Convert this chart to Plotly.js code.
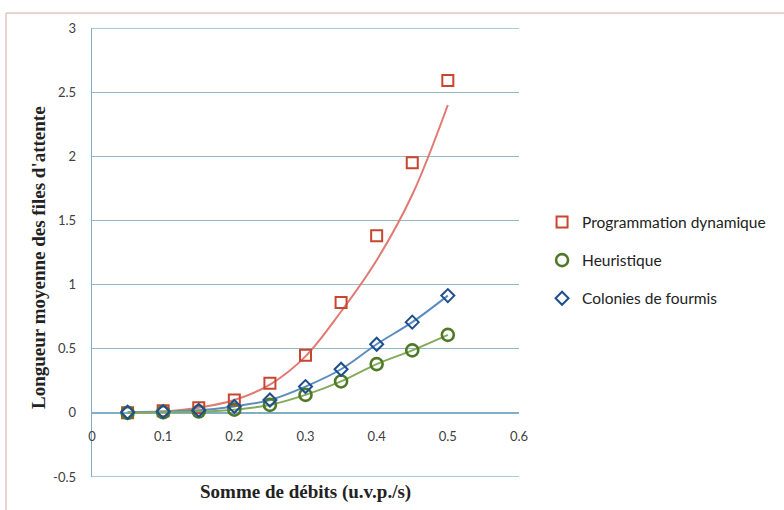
<!DOCTYPE html>
<html>
<head>
<meta charset="utf-8">
<script src="https://cdn.plot.ly/plotly-3.0.1.min.js"></script>
<style>
html,body{margin:0;padding:0;background:#fff;}
#chart{width:784px;height:510px;}
</style>
</head>
<body>
<div id="chart"></div>
<script>
// Data
const debits = [0.05, 0.1, 0.15, 0.2, 0.25, 0.3, 0.35, 0.4, 0.45, 0.5];
const progDyn = [0.0, 0.016, 0.04, 0.10, 0.23, 0.45, 0.86, 1.38, 1.95, 2.59];
const heuristique = [0.0, 0.005, 0.01, 0.025, 0.062, 0.14, 0.245, 0.38, 0.487, 0.608];
const colonies = [0.005, 0.01, 0.02, 0.05, 0.10, 0.205, 0.34, 0.535, 0.707, 0.914];
// trend curve of "Programmation dynamique"
const progDynTrend = [0.0, 0.01, 0.04, 0.10, 0.22, 0.44, 0.79, 1.19, 1.70, 2.40];

const xTicks = [0, 0.1, 0.2, 0.3, 0.4, 0.5, 0.6];
const xTickText = ['0', '0.1', '0.2', '0.3', '0.4', '0.5', '0.6'];
const yTicks = [-0.5, 0, 0.5, 1, 1.5, 2, 2.5, 3];
const yTickText = ['-0.5', '0', '0.5', '1', '1.5', '2', '2.5', '3'];
const yRange = [-0.5, 3];

const names = ['Programmation dynamique', 'Heuristique', 'Colonies de fourmis'];

const traces = [
  {x: debits, y: progDynTrend, mode: 'lines', line: {color: '#e07a72', width: 2, shape: 'spline'}, showlegend: false, hoverinfo: 'skip'},
  {x: debits, y: colonies, mode: 'lines', line: {color: '#5b8cc0', width: 2, shape: 'spline'}, showlegend: false, hoverinfo: 'skip'},
  {x: debits, y: heuristique, mode: 'lines', line: {color: '#84ab5a', width: 2, shape: 'spline'}, showlegend: false, hoverinfo: 'skip'},
  {x: debits, y: progDyn, name: names[0], mode: 'markers', legendgroup: 'a',
   marker: {symbol: 'square-open', size: 11, color: '#c8452f', line: {width: 2, color: '#c8452f'}}},
  {x: debits, y: heuristique, name: names[1], mode: 'markers', legendgroup: 'b',
   marker: {symbol: 'circle-open', size: 12, color: '#4e7a27', line: {width: 2.6, color: '#4e7a27'}}},
  {x: debits, y: colonies, name: names[2], mode: 'markers', legendgroup: 'c',
   marker: {symbol: 'diamond-open', size: 10, color: '#1f4e8c', line: {width: 2, color: '#1f4e8c'}}}
];

const tickFont = {family: 'Lato, "Liberation Sans", sans-serif', size: 13, color: '#404040'};
const gridColor = '#93b8c8';

const layout = {
  width: 784, height: 510,
  margin: {l: 92, r: 265, t: 28, b: 33},
  paper_bgcolor: '#ffffff', plot_bgcolor: '#ffffff',
  showlegend: true,
  xaxis: {
    range: [0, 0.6], tickvals: xTicks, ticktext: xTickText,
    showgrid: false, zeroline: false, showline: false,
    anchor: 'free', position: 0.5 / 3.5,
    ticks: 'outside', ticklen: 12, tickcolor: 'rgba(0,0,0,0)',
    tickfont: tickFont, fixedrange: true
  },
  yaxis: {
    range: yRange, tickvals: yTicks, ticktext: yTickText,
    showgrid: true, gridcolor: gridColor, gridwidth: 1,
    zeroline: true, zerolinecolor: '#7fb0c8', zerolinewidth: 1.3,
    showline: true, linecolor: '#7fb0c8', linewidth: 1.3,
    ticks: 'outside', ticklen: 12, tickcolor: 'rgba(0,0,0,0)',
    tickfont: tickFont, fixedrange: true
  },
  legend: {
    x: 1.054, xanchor: 'left', y: 0.605, yanchor: 'top',
    font: {family: 'Lato, "Liberation Sans", sans-serif', size: 15.5, color: '#222'},
    traceorder: 'grouped', tracegroupgap: 15, bgcolor: 'rgba(0,0,0,0)'
  },
  annotations: [
    {text: '<b>Somme de débits (u.v.p./s)</b>', xref: 'paper', yref: 'paper',
     x: (305 - 92) / 427, y: (477 - 492) / 449, showarrow: false,
     xanchor: 'center', yanchor: 'middle',
     font: {family: '"Liberation Serif", serif', size: 19, color: '#222'}},
    {text: '<b>Longueur moyenne des files d\'attente</b>', xref: 'paper', yref: 'paper',
     x: (38 - 92) / 427, y: (477 - 258) / 449, showarrow: false, textangle: -90,
     xanchor: 'center', yanchor: 'middle',
     font: {family: '"Liberation Serif", serif', size: 19, color: '#222'}}
  ],
  shapes: [
    {type: 'line', xref: 'paper', yref: 'y', x0: 0, x1: 1, y0: yRange[0], y1: yRange[0],
     line: {color: gridColor, width: 1.3}},
    {type: 'line', xref: 'paper', yref: 'y', x0: 0, x1: 1, y0: yRange[1], y1: yRange[1],
     line: {color: gridColor, width: 1.3}},
    {type: 'rect', xref: 'paper', yref: 'paper',
     x0: (6 - 92) / 427, x1: (795 - 92) / 427, y0: (477 - 520) / 449, y1: (477 - 13) / 449,
     line: {color: '#d4a89c', width: 1}, fillcolor: 'rgba(0,0,0,0)', layer: 'below'}
  ]
};

Plotly.newPlot('chart', traces, layout, {displayModeBar: false, staticPlot: true});
</script>
</body>
</html>
